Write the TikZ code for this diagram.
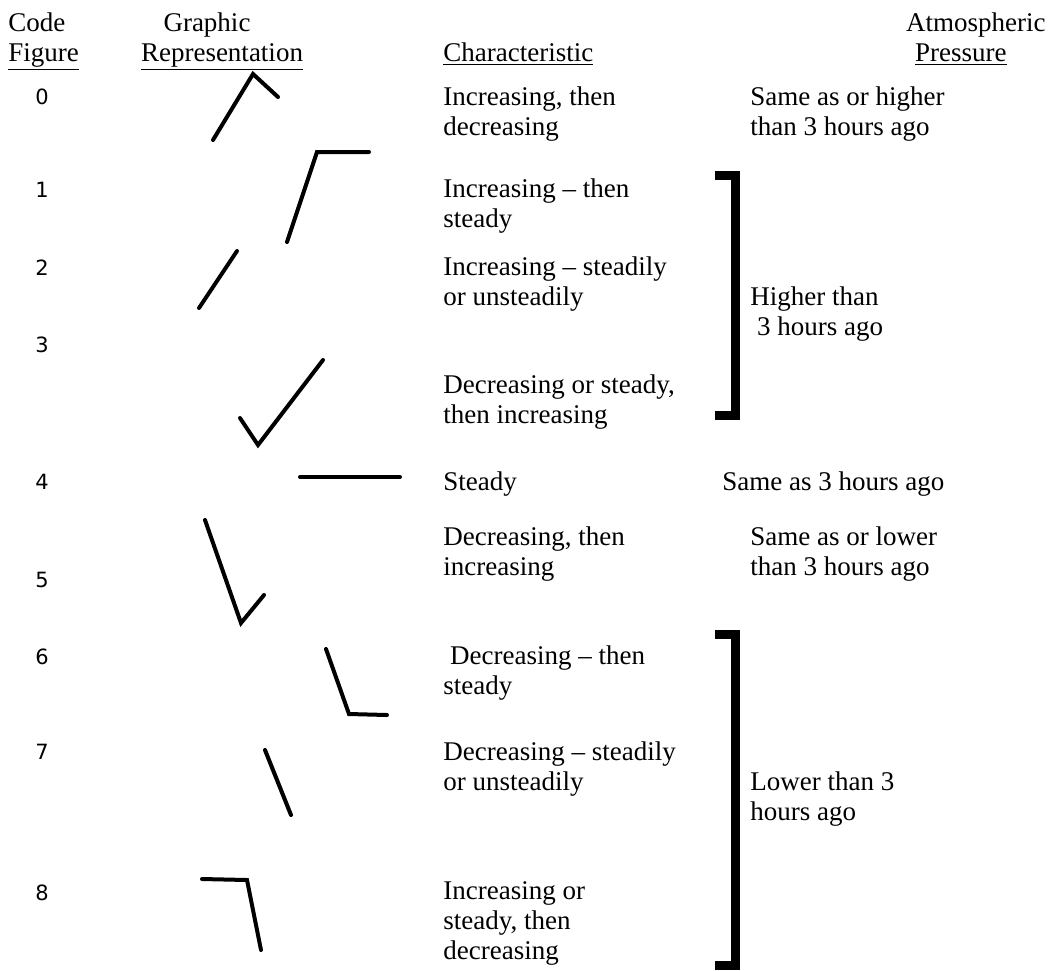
\documentclass[tikz,border=0pt]{standalone}
\usepackage{fontspec}
\setmainfont{Liberation Serif}
\newfontfamily\digitfont{DejaVu Sans}
\usetikzlibrary{positioning}

\begin{document}
\begin{tikzpicture}[
  x=0.5pt, y=-0.5pt,
  head/.style={inner sep=0pt, align=center, font=\fontsize{13.5}{15}\selectfont},
  txt/.style={inner sep=0pt, anchor=north west, align=left, font=\fontsize{13.5}{15}\selectfont},
  code/.style={inner sep=0pt, font=\digitfont\fontsize{10.5}{12}\selectfont},
  grp/.style={line width=2pt, line cap=round, line join=miter},
  brk/.style={line width=4.5pt, line cap=rect}
]
\useasboundingbox (0,0) rectangle (1048,970);

% column heads
\node[head, align=left, anchor=north west] (hcode) at (8,12) {Code\\\underline{Figure}};
\node[head, anchor=north] (hgraph) at (222,12) {Graphic\hspace*{15pt}\\\underline{Representation}};
\node[head, anchor=north west] (hchar) at (443,42) {\underline{Characteristic}};
\node[head, anchor=north east] (hpres) at (1046,12) {Atmospheric\\\underline{Pressure}\hspace*{15pt}};

% code figures
\node[code] (c0) at (42,97) {0};
\node[code] (c1) at (42,190) {1};
\node[code] (c2) at (42,268) {2};
\node[code] (c3) at (42,345) {3};
\node[code] (c4) at (42,482) {4};
\node[code] (c5) at (42,580) {5};
\node[code] (c6) at (42,657) {6};
\node[code] (c7) at (42,752) {7};
\node[code] (c8) at (42,893) {8};

% graphic representation
\draw[grp] (213,140) -- (253,74) -- (278,97);
\draw[grp] (287,242) -- (317,152) -- (369,152);
\draw[grp] (199,308) -- (237,251);
\draw[grp] (240,418) -- (258,445) -- (323,360);
\draw[grp] (300,477) -- (400,477);
\draw[grp] (205,520) -- (241,623) -- (264,595);
\draw[grp] (326,649) -- (349,714) -- (387,715);
\draw[grp] (265,750) -- (291,815);
\draw[grp] (202,879) -- (247,880) -- (261,950);

% characteristic
\node[txt] (t0) at (443,86) {Increasing, then\\decreasing};
\node[txt] (t1) at (443,178) {Increasing -- then\\steady};
\node[txt] (t2) at (443,256) {Increasing -- steadily\\or unsteadily};
\node[txt] (t3) at (443,374) {Decreasing or steady,\\then increasing};
\node[txt] (t4) at (443,471) {Steady};
\node[txt] (t5) at (443,526) {Decreasing, then\\increasing};
\node[txt] (t6) at (443,645) {\ Decreasing -- then\\steady};
\node[txt] (t7) at (443,741) {Decreasing -- steadily\\or unsteadily};
\node[txt] (t8) at (443,881) {Increasing or\\steady, then\\decreasing};

% atmospheric pressure
\node[txt] (p0) at (750,86) {Same as or higher\\than 3 hours ago};
\node[txt] (p1) at (750,286) {Higher than\\\ 3 hours ago};
\node[txt] (p4) at (722,471) {Same as 3 hours ago};
\node[txt] (p5) at (750,526) {Same as or lower\\than 3 hours ago};
\node[txt] (p6) at (750,771) {Lower than 3\\hours ago};

% brackets
\draw[brk] (719.5,175) -- (735.5,175) -- (735.5,415) -- (719.5,415);
\draw[brk] (719.5,634) -- (735.5,634) -- (735.5,965) -- (719.5,965);
\end{tikzpicture}
\end{document}
